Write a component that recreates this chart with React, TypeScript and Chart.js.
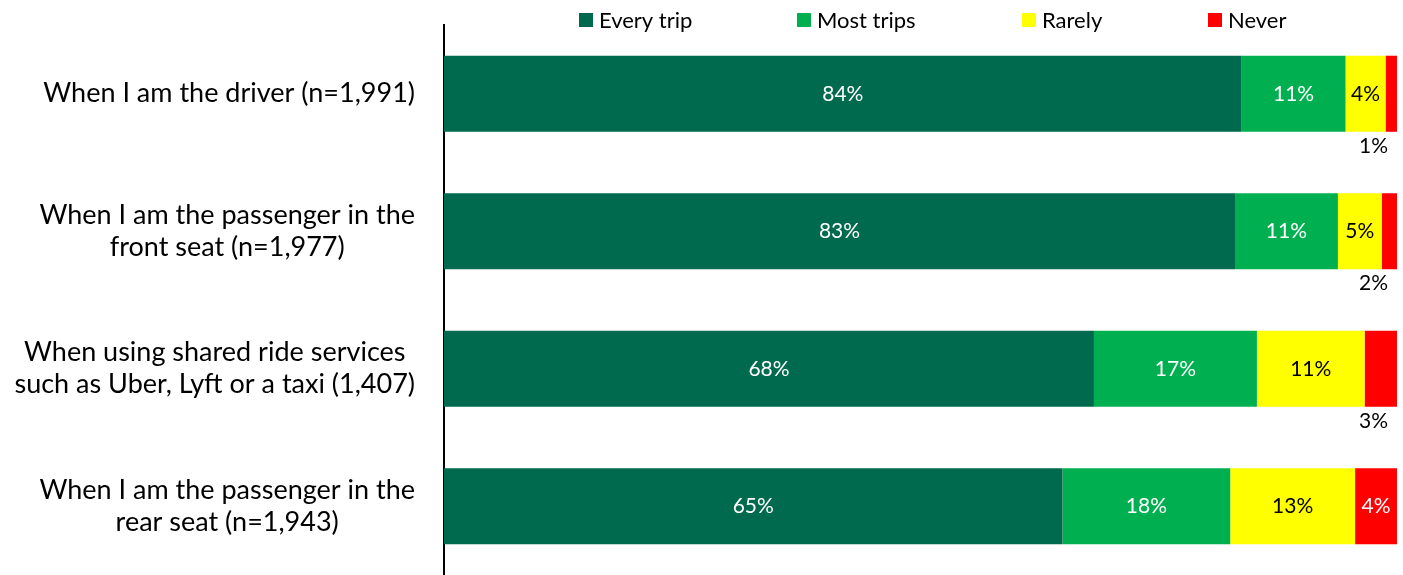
import React, { useEffect, useRef } from "react";
import { Chart, registerables } from "chart.js";

Chart.register(...registerables);

const categories: string[][] = [
  ["When I am the driver (n=1,991)"],
  ["When I am the passenger in the", "front seat (n=1,977)"],
  ["When using shared ride services", "such as Uber, Lyft or a taxi (1,407)"],
  ["When I am the passenger in the", "rear seat (n=1,943)"],
];

const seriesNames = ["Every trip", "Most trips", "Rarely", "Never"];
const everyTrip = [83.7, 83.0, 68.2, 64.9];
const mostTrips = [10.9, 10.8, 17.1, 17.6];
const rarely = [4.2, 4.6, 11.3, 13.1];
const never = [1.2, 1.6, 3.4, 4.4];

const colors = ["#006A4E", "#00B050", "#FFFF00", "#FF0000"];
const labelColors = ["#FFFFFF", "#FFFFFF", "#000000", "#FFFFFF"];

const FONT = "Lato";

const dataLabelPlugin = {
  id: "dataLabels",
  afterDatasetsDraw(chart: any) {
    const ctx = chart.ctx;
    ctx.save();
    ctx.font = `21px ${FONT}`;
    ctx.textBaseline = "middle";
    chart.data.datasets.forEach((ds: any, di: number) => {
      const meta = chart.getDatasetMeta(di);
      meta.data.forEach((el: any, i: number) => {
        const v = ds.data[i];
        const txt = `${Math.round(v)}%`;
        const cx = (el.x + el.base) / 2;
        if (di === 3 && v < 4) {
          ctx.fillStyle = "#000000";
          ctx.textAlign = "right";
          ctx.fillText(txt, chart.chartArea.right - 9, el.y + el.height / 2 + 14);
        } else {
          ctx.fillStyle = labelColors[di];
          ctx.textAlign = "center";
          ctx.fillText(txt, cx, el.y);
        }
      });
    });
    ctx.restore();
  },
};

const categoryLabelPlugin = {
  id: "categoryLabels",
  afterDraw(chart: any) {
    const ctx = chart.ctx;
    const yScale = chart.scales.y;
    const rightEdge = chart.chartArea.left - 29;
    const lineH = 32;
    ctx.save();
    ctx.font = `27px ${FONT}`;
    ctx.fillStyle = "#000000";
    ctx.textBaseline = "middle";
    ctx.textAlign = "center";
    categories.forEach((lines, i) => {
      const yc = yScale.getPixelForValue(i);
      const maxW = Math.max(...lines.map((l) => ctx.measureText(l).width));
      const cx = rightEdge - maxW / 2;
      const y0 = yc - ((lines.length - 1) * lineH) / 2;
      lines.forEach((l, j) => ctx.fillText(l, cx, y0 + j * lineH));
    });
    ctx.restore();
  },
};

const legendPlugin = {
  id: "customLegend",
  afterDraw(chart: any) {
    const ctx = chart.ctx;
    ctx.save();
    ctx.font = `22px ${FONT}`;
    ctx.textBaseline = "middle";
    ctx.textAlign = "left";
    const box = 14;
    const offsets = [0, 218, 443, 629];
    const start = chart.chartArea.left + 135;
    const y = 20;
    seriesNames.forEach((n, i) => {
      const x = start + offsets[i];
      ctx.fillStyle = colors[i];
      ctx.fillRect(x, y - box / 2, box, box);
      ctx.fillStyle = "#000000";
      ctx.fillText(n, x + box + 6, y + 1);
    });
    ctx.restore();
  },
};

export default function App() {
  const ref = useRef<HTMLCanvasElement | null>(null);
  useEffect(() => {
    if (!ref.current) return;
    const values = [everyTrip, mostTrips, rarely, never];
    const chart = new Chart(ref.current, {
      type: "bar",
      data: {
        labels: categories.map((c) => c.join(" ")),
        datasets: seriesNames.map((name, i) => ({
          label: name,
          data: values[i],
          backgroundColor: colors[i],
          borderWidth: 0,
          barPercentage: 0.553,
          categoryPercentage: 1,
        })),
      },
      options: {
        indexAxis: "y",
        animation: false,
        responsive: false,
        maintainAspectRatio: false,
        layout: { padding: { top: 25, right: 6, bottom: 0, left: 0 } },
        plugins: {
          legend: { display: false },
          tooltip: { enabled: false },
        },
        scales: {
          x: {
            stacked: true,
            min: 0,
            max: 100,
            display: false,
          },
          y: {
            stacked: true,
            grid: { display: false },
            border: { display: true, color: "#000000", width: 2 },
            ticks: { display: false },
            afterFit(scale: any) {
              scale.width = 444;
              scale.paddingTop = 0;
              scale.paddingBottom = 0;
            },
          },
        },
      },
      plugins: [dataLabelPlugin, categoryLabelPlugin, legendPlugin],
    });
    return () => chart.destroy();
  }, []);
  return (
    <div style={{ position: "absolute", left: 0, top: 0, width: 1403, height: 575, background: "#fff" }}>
      <canvas ref={ref} width={1403} height={575} style={{ display: "block" }} />
    </div>
  );
}
